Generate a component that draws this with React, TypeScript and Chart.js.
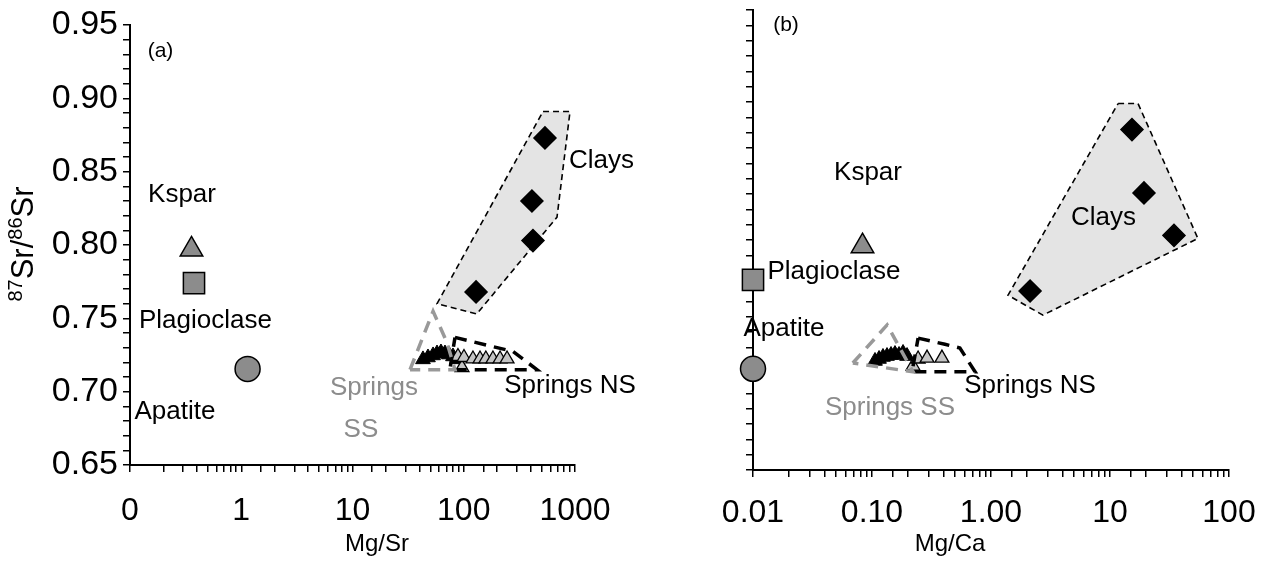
import React, { useEffect, useRef } from 'react';
import { Chart, registerables } from 'chart.js';

Chart.register(...registerables);

const FONT = '"Liberation Sans", Arial, Helvetica, sans-serif';

// ---------------- shared y axis ----------------
const yTickValues = [0.65, 0.7, 0.75, 0.8, 0.85, 0.9, 0.95];
const yTickLabels = ['0.65', '0.70', '0.75', '0.80', '0.85', '0.90', '0.95'];

// ---------------- Panel (a): Mg/Sr ----------------
const aXTickValues = [0.1, 1, 10, 100, 1000];
const aXTickLabels = ['0', '1', '10', '100', '1000'];

const aKspar = [{ x: 0.357, y: 0.797 }];
const aPlagioclase = [{ x: 0.376, y: 0.774 }];
const aApatite = [{ x: 1.14, y: 0.7155 }];
const aClays = [
  { x: 537, y: 0.873 },
  { x: 410, y: 0.83 },
  { x: 419, y: 0.803 },
  { x: 129, y: 0.768 },
];
const aSpringsBlack = [
  { x: 43, y: 0.722 },
  { x: 47.7, y: 0.7233 },
  { x: 53, y: 0.7247 },
  { x: 57.5, y: 0.726 },
  { x: 62.4, y: 0.7267 },
  { x: 67.8, y: 0.726 },
  { x: 73.6, y: 0.7253 },
  { x: 80, y: 0.724 },
  { x: 86.9, y: 0.722 },
];
const aSpringsGray = [
  { x: 88.7, y: 0.724 },
  { x: 96.4, y: 0.7164 },
  { x: 100.5, y: 0.7233 },
  { x: 121, y: 0.7223 },
  { x: 140, y: 0.7223 },
  { x: 158, y: 0.7223 },
  { x: 183, y: 0.7223 },
  { x: 212, y: 0.7223 },
  { x: 245, y: 0.7223 },
];
const aClayField = [
  { x: 516, y: 0.891 },
  { x: 902, y: 0.891 },
  { x: 689, y: 0.819 },
  { x: 131, y: 0.753 },
  { x: 57.5, y: 0.76 },
  { x: 516, y: 0.891 },
];
const aSSField = [
  { x: 32.9, y: 0.715 },
  { x: 53, y: 0.7548 },
  { x: 70.6, y: 0.7336 },
  { x: 83.4, y: 0.715 },
  { x: 32.9, y: 0.715 },
];
const aNSField = [
  { x: 83.4, y: 0.737 },
  { x: 277, y: 0.7274 },
  { x: 455, y: 0.715 },
  { x: 75, y: 0.715 },
  { x: 83.4, y: 0.737 },
];
const aNotes = [
  { text: '(a)', x: 0.188, y: 0.932, size: 21 },
  { text: 'Kspar', x: 0.2934, y: 0.8343 },
  { text: 'Plagioclase', x: 0.477, y: 0.7486 },
  { text: 'Apatite', x: 0.2537, y: 0.6863 },
  { text: 'Clays', x: 1730, y: 0.8576 },
  { text: 'Springs NS', x: 902, y: 0.7041 },
  { text: 'Springs', x: 15.6, y: 0.7025, color: '#8c8c8c' },
  { text: 'SS', x: 11.9, y: 0.674, color: '#8c8c8c' },
];

// ---------------- Panel (b): Mg/Ca ----------------
const bXTickValues = [0.01, 0.1, 1, 10, 100];
const bXTickLabels = ['0.01', '0.10', '1.00', '10', '100'];

const bKspar = [{ x: 0.0832, y: 0.796 }];
const bPlagioclase = [{ x: 0.01, y: 0.774 }];
const bApatite = [{ x: 0.01, y: 0.716 }];
const bClays = [
  { x: 15.3, y: 0.872 },
  { x: 19.3, y: 0.8307 },
  { x: 34.5, y: 0.803 },
  { x: 2.13, y: 0.7667 },
];
const bSpringsBlack = [
  { x: 0.106, y: 0.7211 },
  { x: 0.1146, y: 0.7224 },
  { x: 0.1237, y: 0.7237 },
  { x: 0.1337, y: 0.7243 },
  { x: 0.1445, y: 0.725 },
  { x: 0.156, y: 0.7256 },
  { x: 0.1687, y: 0.725 },
  { x: 0.1823, y: 0.7263 },
  { x: 0.197, y: 0.7243 },
];
const bSpringsGray = [
  { x: 0.221, y: 0.7178 },
  { x: 0.244, y: 0.7224 },
  { x: 0.29, y: 0.723 },
  { x: 0.387, y: 0.723 },
];
const bClayField = [
  { x: 11.7, y: 0.889 },
  { x: 17.2, y: 0.889 },
  { x: 54.8, y: 0.801 },
  { x: 2.73, y: 0.751 },
  { x: 1.39, y: 0.764 },
  { x: 11.7, y: 0.889 },
];
const bSSField = [
  { x: 0.069, y: 0.7198 },
  { x: 0.134, y: 0.7446 },
  { x: 0.221, y: 0.714 },
  { x: 0.069, y: 0.7198 },
];
const bNSField = [
  { x: 0.244, y: 0.736 },
  { x: 0.41, y: 0.732 },
  { x: 0.548, y: 0.7296 },
  { x: 0.735, y: 0.714 },
  { x: 0.217, y: 0.714 },
  { x: 0.244, y: 0.736 },
];
const bNotes = [
  { text: '(b)', x: 0.01894, y: 0.94, size: 21 },
  { text: 'Kspar', x: 0.0926, y: 0.8436 },
  { text: 'Plagioclase', x: 0.0479, y: 0.7791 },
  { text: 'Apatite', x: 0.01822, y: 0.7419 },
  { text: 'Clays', x: 8.82, y: 0.8143 },
  { text: 'Springs NS', x: 2.127, y: 0.7048 },
  { text: 'Springs SS', x: 0.1416, y: 0.6904, color: '#8c8c8c' },
];

// ---------------- helpers ----------------
function labelFor(v: number, values: number[], labels: string[]) {
  for (let i = 0; i < values.length; i++) {
    if (Math.abs(v - values[i]) <= 1e-9 + 1e-6 * Math.abs(values[i])) return labels[i];
  }
  return '';
}

function notesPlugin(notes: any[], axisTitle: { text: string; x: number; y: number }) {
  return {
    id: 'notes',
    afterDraw(chart: any) {
      const { ctx, scales } = chart;
      ctx.save();
      ctx.textAlign = 'center';
      ctx.textBaseline = 'middle';
      for (const n of notes) {
        ctx.font = `${n.size ?? 26}px ${FONT}`;
        ctx.fillStyle = n.color ?? '#000';
        ctx.fillText(n.text, scales.x.getPixelForValue(n.x), scales.y.getPixelForValue(n.y));
      }
      ctx.font = `24px ${FONT}`;
      ctx.fillStyle = '#000';
      ctx.fillText(axisTitle.text, axisTitle.x, axisTitle.y);
      ctx.restore();
    },
  };
}

const yTitlePlugin = {
  id: 'ytitle',
  afterDraw(chart: any) {
    const ctx = chart.ctx;
    ctx.save();
    ctx.translate(21, 244);
    ctx.rotate(-Math.PI / 2);
    const parts: [string, boolean][] = [
      ['87', true],
      ['Sr/', false],
      ['86', true],
      ['Sr', false],
    ];
    const big = `31px ${FONT}`;
    const small = `20px ${FONT}`;
    let total = 0;
    for (const [t, sup] of parts) {
      ctx.font = sup ? small : big;
      total += ctx.measureText(t).width;
    }
    let x = -total / 2;
    ctx.textBaseline = 'alphabetic';
    ctx.textAlign = 'left';
    ctx.fillStyle = '#000';
    for (const [t, sup] of parts) {
      ctx.font = sup ? small : big;
      ctx.fillText(t, x, sup ? 1 : 12);
      x += ctx.measureText(t).width;
    }
    ctx.restore();
  },
};

function pointSet(data: any[], style: string, radius: number, fill: string, order: number, bw = 1.5) {
  return {
    type: 'scatter',
    data,
    pointStyle: style,
    pointRadius: radius,
    pointHoverRadius: radius,
    pointBackgroundColor: fill,
    pointBorderColor: '#000',
    pointBorderWidth: bw,
    showLine: false,
    clip: false,
    order,
  };
}

function fieldSet(data: any[], color: string, width: number, dash: number[], fillColor: string | null, order: number) {
  return {
    type: 'line',
    data,
    borderColor: color,
    borderWidth: width,
    borderDash: dash,
    backgroundColor: fillColor ?? 'rgba(0,0,0,0)',
    fill: fillColor ? 'shape' : false,
    pointRadius: 0,
    pointHoverRadius: 0,
    tension: 0,
    clip: false,
    order,
  };
}

function buildChart(canvas: HTMLCanvasElement, cfg: any) {
  const axisCommon = {
    border: { display: true, color: '#000', width: 2 },
    grid: {
      display: true,
      drawOnChartArea: false,
      drawTicks: true,
      tickLength: 7,
      color: '#000',
      lineWidth: 1.5,
    },
  };
  return new Chart(canvas, {
    type: 'scatter',
    data: { datasets: cfg.datasets },
    options: {
      animation: false,
      responsive: false,
      events: [],
      layout: { padding: cfg.pad, autoPadding: false },
      plugins: { legend: { display: false }, tooltip: { enabled: false } },
      scales: {
        x: {
          type: 'logarithmic',
          min: cfg.xMin,
          max: cfg.xMax,
          ...axisCommon,
          afterFit: (s: any) => {
            s.height = cfg.xHeight;
            s.paddingLeft = 0;
            s.paddingRight = 0;
          },
          ticks: {
            autoSkip: false,
            maxRotation: 0,
            minRotation: 0,
            padding: cfg.xLabelPad,
            color: '#000',
            font: { family: FONT, size: 32 },
            callback: (v: any) => labelFor(Number(v), cfg.xTickValues, cfg.xTickLabels),
          },
        },
        y: {
          type: 'linear',
          min: 0.65,
          max: 0.95,
          ...axisCommon,
          afterFit: (s: any) => {
            s.width = cfg.yWidth;
            s.paddingTop = 0;
            s.paddingBottom = 0;
          },
          ticks: {
            stepSize: 0.01,
            display: cfg.showYLabels,
            autoSkip: false,
            padding: 5,
            color: '#000',
            font: { family: FONT, size: 34 },
            callback: (v: any) => labelFor(Number(v), yTickValues, yTickLabels),
          },
        },
      },
    } as any,
    plugins: cfg.plugins,
  } as any);
}

export default function App() {
  const leftRef = useRef<HTMLCanvasElement>(null);
  const rightRef = useRef<HTMLCanvasElement>(null);

  useEffect(() => {
    const c1 = buildChart(leftRef.current!, {
      xMin: 0.1,
      xMax: 1000,
      xTickValues: aXTickValues,
      xTickLabels: aXTickLabels,
      showYLabels: true,
      pad: { left: 0, right: 125, top: 25, bottom: 0 },
      yWidth: 130,
      xHeight: 97,
      xLabelPad: 20,
      datasets: [
        pointSet(aKspar, 'triangle', 13, '#8c8c8c', 1),
        pointSet(aPlagioclase, 'rect', 15, '#8c8c8c', 1),
        pointSet(aApatite, 'circle', 12.5, '#8c8c8c', 1),
        pointSet(aClays, 'rectRot', 11, '#000', 1),
        pointSet(aSpringsGray, 'triangle', 8, '#c4c4c4', 2, 1.3),
        pointSet(aSpringsBlack, 'triangle', 8.5, '#000', 3, 1),
        fieldSet(aClayField, '#000', 1.6, [6, 4], '#e4e4e4', 10),
        fieldSet(aSSField, '#999999', 3.5, [12, 8], null, 0),
        fieldSet(aNSField, '#000', 3.5, [12, 8], null, 0),
      ],
      plugins: [notesPlugin(aNotes, { text: 'Mg/Sr', x: 377, y: 544 }), yTitlePlugin],
    });
    const c2 = buildChart(rightRef.current!, {
      xMin: 0.01,
      xMax: 100,
      xTickValues: bXTickValues,
      xTickLabels: bXTickLabels,
      showYLabels: false,
      pad: { left: 0, right: 34, top: 10, bottom: 0 },
      yWidth: 123,
      xHeight: 92,
      xLabelPad: 17,
      datasets: [
        pointSet(bKspar, 'triangle', 13, '#8c8c8c', 1),
        pointSet(bPlagioclase, 'rect', 15, '#8c8c8c', 1),
        pointSet(bApatite, 'circle', 12.5, '#8c8c8c', 1),
        pointSet(bClays, 'rectRot', 11, '#000', 1),
        pointSet(bSpringsGray, 'triangle', 8, '#c4c4c4', 2, 1.3),
        pointSet(bSpringsBlack, 'triangle', 8.5, '#000', 3, 1),
        fieldSet(bClayField, '#000', 1.6, [6, 4], '#e4e4e4', 10),
        fieldSet(bSSField, '#999999', 3.5, [12, 8], null, 0),
        fieldSet(bNSField, '#000', 3.5, [12, 8], null, 0),
      ],
      plugins: [notesPlugin(bNotes, { text: 'Mg/Ca', x: 320, y: 544 })],
    });
    return () => {
      c1.destroy();
      c2.destroy();
    };
  }, []);

  return (
    <div
      style={{
        position: 'absolute',
        left: 0,
        top: 0,
        width: 1263,
        height: 562,
        background: '#fff',
        overflow: 'hidden',
      }}
    >
      <canvas
        ref={leftRef}
        width={700}
        height={562}
        style={{ position: 'absolute', left: 0, top: 0, width: 700, height: 562 }}
      />
      <canvas
        ref={rightRef}
        width={633}
        height={562}
        style={{ position: 'absolute', left: 630, top: 0, width: 633, height: 562 }}
      />
    </div>
  );
}
